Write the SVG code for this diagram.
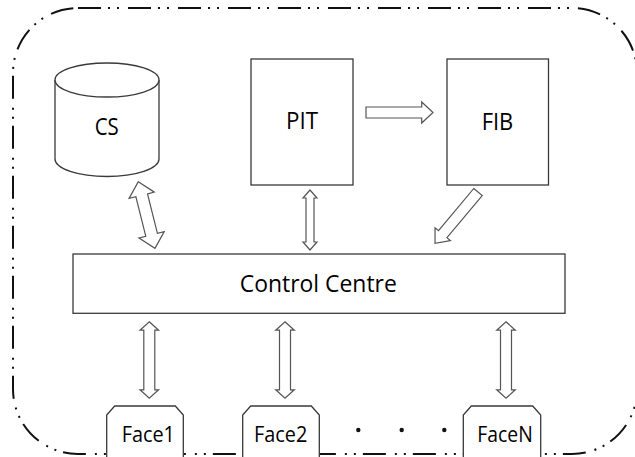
<svg xmlns="http://www.w3.org/2000/svg" width="635" height="457" viewBox="0 0 635 457">
<style>
.box{fill:#fff;stroke:#3a3a3a;stroke-width:1.3}
.arr{fill:#fff;stroke:#555;stroke-width:1.2;stroke-linejoin:miter}
.lbl{font-family:"Open Sans","Noto Sans",sans-serif;font-size:23px;fill:#000;text-anchor:middle}
.face{font-size:22px}
.border{fill:none;stroke:#111;stroke-width:2;stroke-dasharray:23 7 2 7 2 9}
</style>
<rect width="635" height="457" fill="#fff"/>
<rect class="border" x="13" y="8" width="624" height="446" rx="65" ry="65"/>
<g id="connectors">
  <polygon class="arr" transform="translate(138.3,181.7) rotate(-14.06)" points="0,0 13,14 6,14 6,54.7 13,54.7 0,68.7 -13,54.7 -6,54.7 -6,14 -13,14"/>
  <polygon class="arr" points="310,190 317,198 314,198 314,242 317,242 310,250 303,242 306,242 306,198 303,198"/>
  <polygon class="arr" points="366,107 421.7,107 421.7,102 433,112.5 421.7,123 421.7,118 366,118"/>
  <polygon class="arr" transform="translate(478,192) rotate(39.9)" points="-5.5,0 5.5,0 5.5,55 10,55 0,67 -10,55 -5.5,55"/>
  <polygon class="arr" points="149.3,321.7 158.6,330.2 154.8,330.2 154.8,389.8 158.6,389.8 149.3,398.3 140,389.8 143.8,389.8 143.8,330.2 140,330.2"/>
  <polygon class="arr" points="285,321.7 294.3,330.2 290.5,330.2 290.5,389.8 294.3,389.8 285,398.3 275.7,389.8 279.5,389.8 279.5,330.2 275.7,330.2"/>
  <polygon class="arr" points="506,321.7 515.3,330.2 511.5,330.2 511.5,389.8 515.3,389.8 506,398.3 496.7,389.8 500.5,389.8 500.5,330.2 496.7,330.2"/>
</g>
<g id="cs">
  <path class="box" d="M55,80 L55,159 A52,17.5 0 0 0 159,159 L159,80"/>
  <ellipse class="box" cx="107" cy="80" rx="52" ry="17"/>
  <text class="lbl" x="106.7" y="135" textLength="24" lengthAdjust="spacingAndGlyphs">CS</text>
</g>
<g id="pit">
  <rect class="box" x="251" y="59" width="102" height="126"/>
  <text class="lbl" x="302" y="129.3" textLength="32" lengthAdjust="spacingAndGlyphs">PIT</text>
</g>
<g id="fib">
  <rect class="box" x="447" y="59" width="101.5" height="126"/>
  <text class="lbl" x="497.5" y="130" textLength="31.6" lengthAdjust="spacingAndGlyphs">FIB</text>
</g>
<g id="control">
  <rect class="box" x="73" y="254" width="492" height="59.3"/>
  <text class="lbl" x="318.3" y="291.7" textLength="157" lengthAdjust="spacingAndGlyphs">Control Centre</text>
</g>
<g id="face1">
  <path class="box" d="M106.7,460 L106.7,415 L114.7,406 L175.3,406 L183.3,415 L183.3,460"/>
  <text class="lbl face" x="148.3" y="441.7" textLength="53.3" lengthAdjust="spacingAndGlyphs">Face1</text>
</g>
<g id="face2">
  <path class="box" d="M242.7,460 L242.7,415 L250.7,406 L311.3,406 L319.3,415 L319.3,460"/>
  <text class="lbl face" x="280.7" y="441.7" textLength="53.3" lengthAdjust="spacingAndGlyphs">Face2</text>
</g>
<g id="dots">
  <circle cx="358.3" cy="430" r="2.2" fill="#111"/>
  <circle cx="401.7" cy="430" r="2.2" fill="#111"/>
  <circle cx="444.3" cy="430" r="2.2" fill="#111"/>
</g>
<g id="faceN">
  <path class="box" d="M463.3,460 L463.3,415 L471.3,406 L532.7,406 L540.7,415 L540.7,460"/>
  <text class="lbl face" x="505" y="441.7" textLength="55.4" lengthAdjust="spacingAndGlyphs">FaceN</text>
</g>
</svg>
